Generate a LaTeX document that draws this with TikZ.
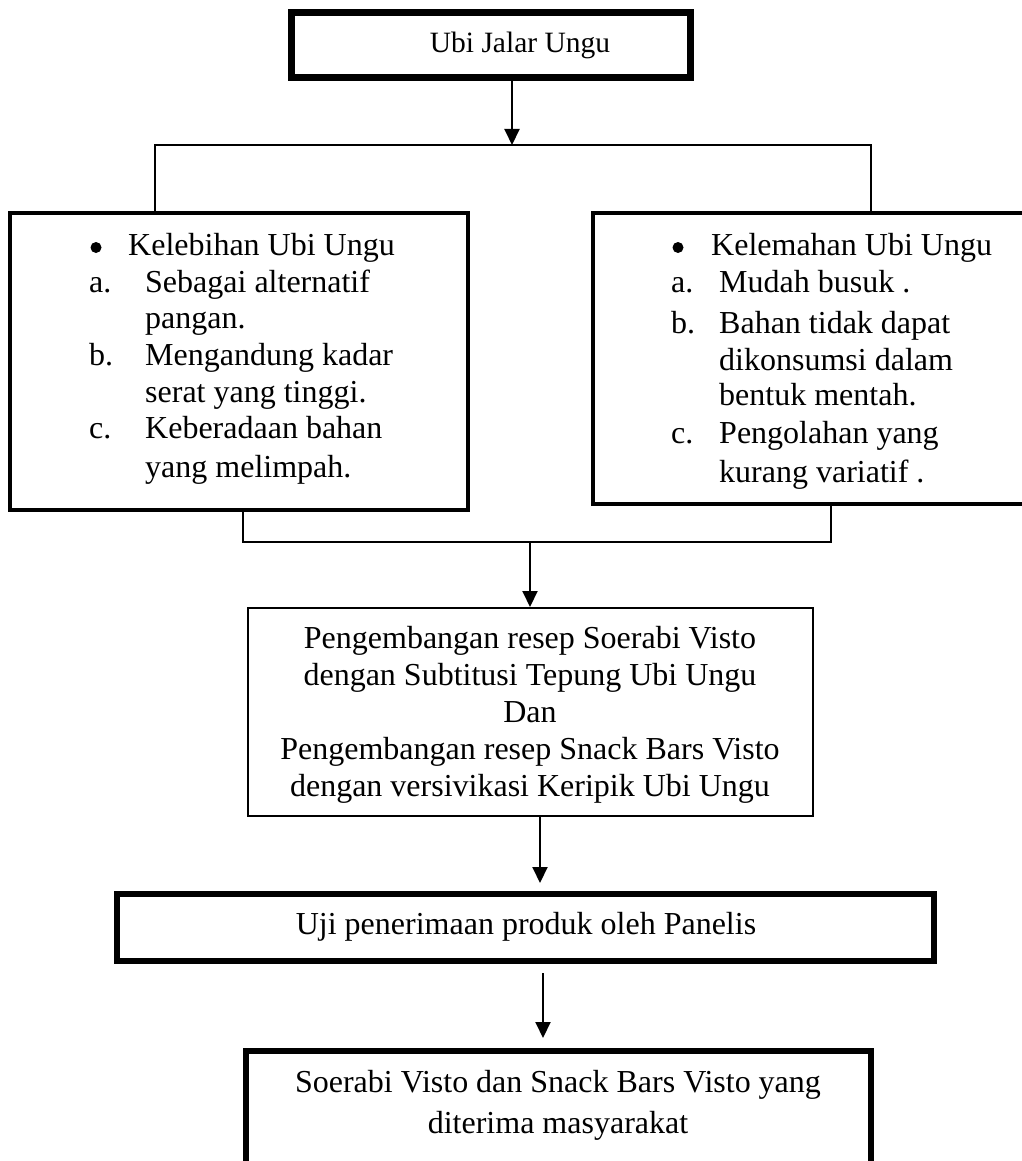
\documentclass[tikz,border=0pt]{standalone}
\usepackage{fontspec}
\setmainfont{Liberation Serif}
\usetikzlibrary{arrows.meta}
\begin{document}
\begin{tikzpicture}[x=1pt,y=-1pt,
  txt/.style={font=\fontsize{32}{37}\selectfont, inner sep=0, anchor=base west},
  ctxt/.style={font=\fontsize{32}{37}\selectfont, inner sep=0, anchor=base},
  box/.style={draw, inner sep=0, fill=none},
  bul/.style={circle, fill=black, inner sep=0, minimum size=11pt},
  conn/.style={line width=1.5pt},
  arr/.style={line width=2pt, -{Triangle[width=15pt,length=16pt]}},
]
\useasboundingbox (0,0) rectangle (1021,1161);

% boxes
\node[box, line width=7pt, minimum width=399pt, minimum height=65pt] (topbox) at (491,45) {};
\node[box, line width=4pt, minimum width=458pt, minimum height=297pt] (leftbox) at (239,361.5) {};
\node[box, line width=4pt, minimum width=447pt, minimum height=291pt] (rightbox) at (816.5,358.5) {};
\node[box, line width=2pt, minimum width=565pt, minimum height=208pt] (midbox) at (530.5,712) {};
\node[box, line width=6pt, minimum width=817pt, minimum height=67pt] (ujibox) at (525.5,927.5) {};
\node[box, line width=5.5pt, minimum width=625pt, minimum height=149pt] (endbox) at (558.5,1125.5) {};

% junction coordinates
\coordinate (j1) at (512,145);
\coordinate (hl) at (155,145);
\coordinate (hr) at (871,145);
\coordinate (bl) at (243,542);
\coordinate (br) at (831,542);
\coordinate (j2) at (530,542);
\coordinate (a3) at (540,883);
\coordinate (a4s) at (543,973);
\coordinate (a4e) at (543,1038);

% connectors
\draw[arr] (topbox.south -| j1) -- (j1);
\draw[conn] (leftbox.north -| hl) -- (hl) -- (hr) -- (rightbox.north -| hr);
\draw[conn] (leftbox.south -| bl) -- (bl) -- (br) -- (rightbox.south -| br);
\draw[arr] (j2) -- (midbox.north -| j2);
\draw[arr] (midbox.south -| a3) -- (a3);
\draw[arr] (a4s) -- (a4e);

% top text
\node[font=\fontsize{29.5}{34}\selectfont, inner sep=0, anchor=base] (ttop) at (520,53) {Ubi Jalar Ungu};

% left box text
\node[bul] (lb) at (96,247.5) {};
\node[txt] (l1) at (128,255) {Kelebihan Ubi Ungu};
\node[txt] (la) at (89,292) {a.};
\node[txt] (l2) at (145,292) {Sebagai alternatif};
\node[txt] (l3) at (145,328) {pangan.};
\node[txt] (lbb) at (89,365) {b.};
\node[txt] (l4) at (145,365) {Mengandung kadar};
\node[txt] (l5) at (145,402) {serat yang tinggi.};
\node[txt] (lc) at (89,438) {c.};
\node[txt] (l6) at (145,438) {Keberadaan bahan};
\node[txt] (l7) at (145,477) {yang melimpah.};

% right box text
\node[bul] (rb) at (678,247.5) {};
\node[txt] (r1) at (711,255) {Kelemahan Ubi Ungu};
\node[txt] (ra) at (671,292) {a.};
\node[txt] (r2) at (719,292) {Mudah busuk .};
\node[txt] (rbb) at (671,333) {b.};
\node[txt] (r3) at (719,333) {Bahan tidak dapat};
\node[txt] (r4) at (719,370) {dikonsumsi dalam};
\node[txt] (r5) at (719,405) {bentuk mentah.};
\node[txt] (rc) at (671,443) {c.};
\node[txt] (r6) at (719,443) {Pengolahan yang};
\node[txt] (r7) at (719,482) {kurang variatif .};

% middle box text
\node[ctxt] (m1) at (530,648) {Pengembangan resep Soerabi Visto};
\node[ctxt] (m2) at (530,685) {dengan Subtitusi Tepung Ubi Ungu};
\node[ctxt] (m3) at (530,722) {Dan};
\node[ctxt] (m4) at (530,759) {Pengembangan resep Snack Bars Visto};
\node[ctxt] (m5) at (530,796) {dengan versivikasi Keripik Ubi Ungu};

% uji text
\node[ctxt] (u1) at (526,934) {Uji penerimaan produk oleh Panelis};

% end text
\node[ctxt] (e1) at (558,1092) {Soerabi Visto dan Snack Bars Visto yang};
\node[ctxt] (e2) at (558,1133) {diterima masyarakat};
\end{tikzpicture}
\end{document}
